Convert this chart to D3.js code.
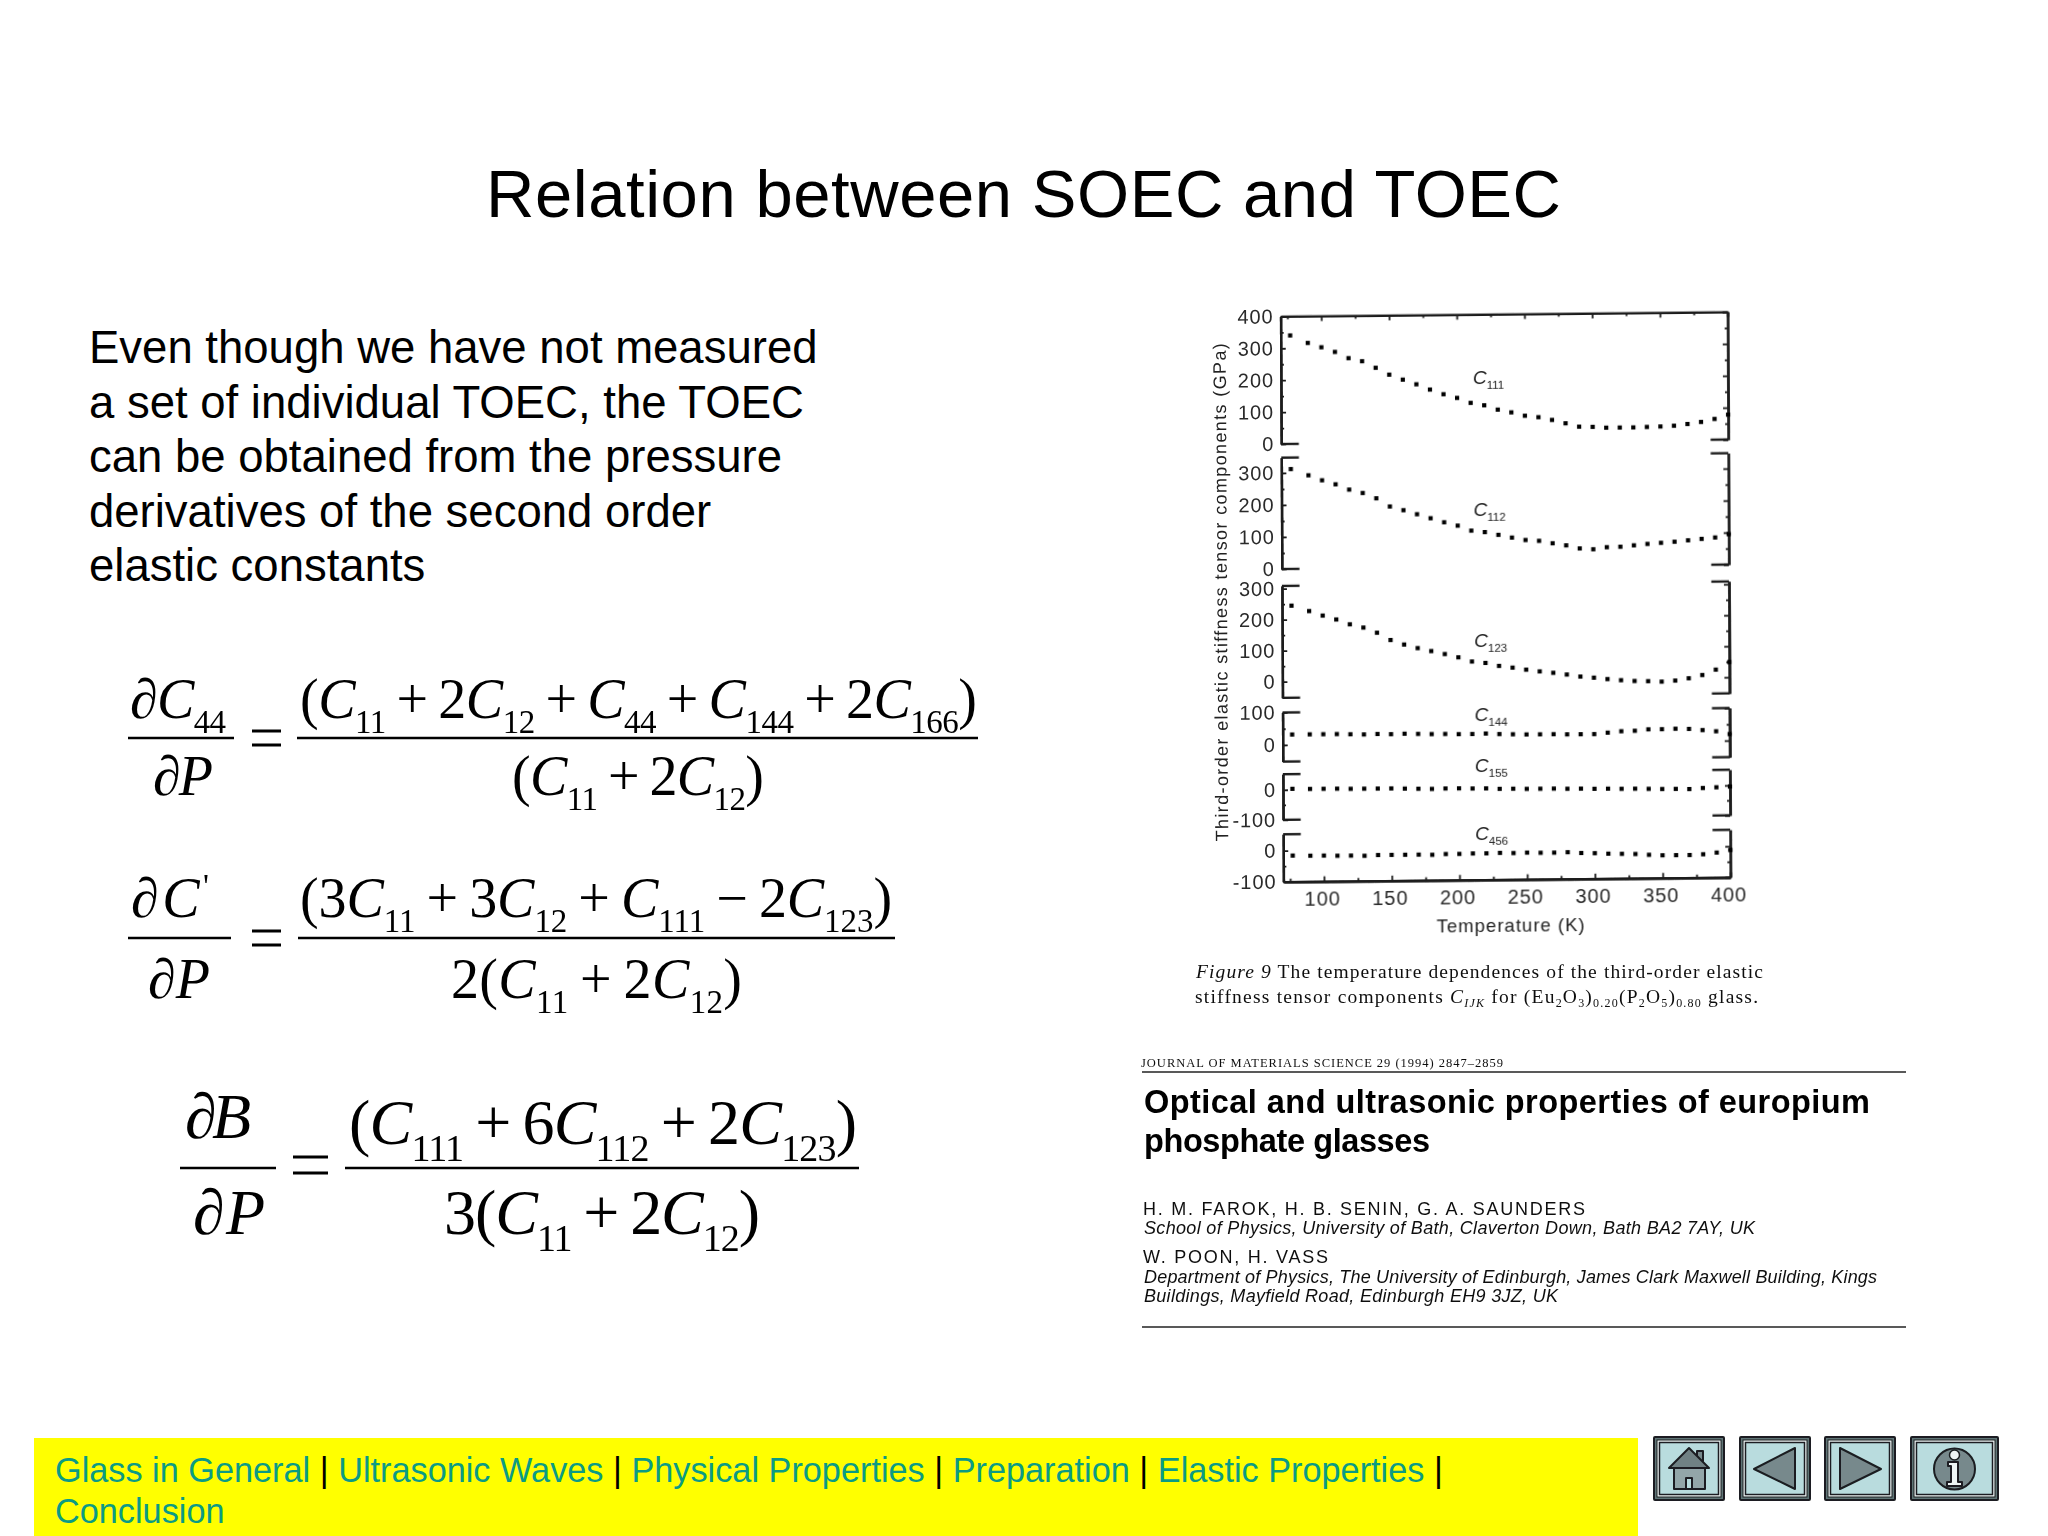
<!DOCTYPE html>
<html><head><meta charset="utf-8">
<script src="https://cdn.jsdelivr.net/npm/d3@7"></script>
<style>html,body{margin:0;padding:0;background:#fff}svg{display:block}text{white-space:pre}</style>
</head><body><svg id="c" width="2048" height="1536"></svg>
<script>
const temperatures=[77,90,100,110,120,130,140,150,160,170,180,190,200,210,220,230,240,250,260,270,280,290,300,310,320,330,340,350,360,370,380,390,400];
const c111=[340,316,302,287,267,257,236,214,198,183,166,151,139,123,115,101,92,81,76,67,56,45,44,41,41,41,42,43,45,50,56,65,78];
const c112=[312,292,276,263,246,235,218,192,180,167,154,141,130,114,109,100,91,83,80,72,65,55,52,58,59,63,67,70,73,77,81,85,95];
const c123=[245,227,212,199,183,172,155,131,116,104,94,84,73,59,54,44,38,31,25,20,14,7,3,-2,-6,-9,-10,-12,-9,-2,8,25,49];
const c144=[32,32,32,32,31,30,31,30,31,30,29,29,28,28,29,27,26,25,25,25,24,24,24,28,32,33,37,37,38,37,33,29,20];
const c155=[3,2,2,2,1,1,1,1,0,-1,-2,-1,-1,-2,-2,-4,-4,-5,-5,-5,-6,-6,-7,-7,-8,-8,-9,-10,-10,-11,-8,-6,-4];
const c456=[-16,-17,-17,-18,-18,-19,-17,-17,-17,-17,-18,-16,-16,-15,-15,-14,-15,-14,-15,-15,-14,-17,-18,-20,-21,-22,-25,-27,-27,-27,-25,-20,-12];
const seriesNames=["111","112","123","144","155","456"];
const seriesValues=[c111,c112,c123,c144,c155,c456];
const yMajorTicks=[[0,100,200,300,400],[0,100,200,300],[0,100,200,300],[0,100],[0,-100],[0,-100]];
const yMinorTicks=[[50,150,250,350],[50,150,250],[50,150,250],[50],[-50],[-50]];
const yDomains=[[0,400],[0,348],[-52,309],[-51,100],[-100,52],[-100,53]];
const xMajorTicks=[100,150,200,250,300,350,400];
const xMinorTicks=[75,125,175,225,275,325,375];
const bodyLines=["Even though we have not measured","a set of individual TOEC, the TOEC","can be obtained from the pressure","derivatives of the second order","elastic constants"];
const navLinks=["Glass in General","Ultrasonic Waves","Physical Properties","Preparation","Elastic Properties"];

const svg=d3.select("#c");
const defs=svg.append("defs");
defs.append("filter").attr("id","scan").attr("x","-5%").attr("y","-5%").attr("width","110%").attr("height","110%")
  .append("feGaussianBlur").attr("stdDeviation",0.6);
defs.append("filter").attr("id","soft").attr("x","-5%").attr("y","-5%").attr("width","110%").attr("height","110%")
  .append("feGaussianBlur").attr("stdDeviation",0.4);
svg.append("rect").attr("width",2048).attr("height",1536).attr("fill","#fff");

const SANS="'Liberation Sans',Arial,sans-serif", SERIF="'Liberation Serif','Times New Roman',serif";
function fit(t,w){const n=t.text().length,l=t.node().getComputedTextLength();t.attr("letter-spacing",((w-l)/Math.max(1,n-1)).toFixed(3));return t;}
function label(g,x,y,s,size,w,o={}){const t=g.append("text").attr("x",x).attr("y",y).text(s).attr("font-family",o.family||SANS).attr("font-size",size).attr("fill",o.fill||"#000");
  if(o.weight)t.attr("font-weight",o.weight);if(o.style)t.attr("font-style",o.style);if(w)fit(t,w);return t;}
/* rich text: "*x" italic, "_x" subscript, "_*x" italic subscript, "^x" superscript */
function rich(g,x,y,parts,o){const t=g.append("text").attr("x",x).attr("y",y).attr("font-family",o.family||SERIF).attr("font-size",o.size).attr("fill",o.fill||"#000");
  let cur=0;parts.forEach(p=>{let s=p,off=0,size=o.size,it=false;
    if(s[0]=="_"){off=o.sub;size=o.subSize;s=s.slice(1);}
    else if(s[0]=="^"){off=-o.sup;size=o.subSize;s=s.slice(1);}
    if(s[0]=="*"&&s.length>1){it=true;s=s.slice(1);}
    const ts=t.append("tspan").text(s).attr("font-size",size).attr("dy",off-cur);
    if(it)ts.attr("font-style","italic");cur=off;});
  if(o.width){const n=t.text().length,l=t.node().getComputedTextLength();t.attr("letter-spacing",((o.width-l)/(n-1)).toFixed(3));}
  return t;}

/* ---------- slide text ---------- */
label(svg,486,217,"Relation between SOEC and TOEC",67,1075);
bodyLines.forEach((s,i)=>label(svg,89,363+i*54.5,s,45.5));

/* ---------- equations ---------- */
const eqG=svg.append("g").attr("filter","url(#soft)");
function bar(x1,x2,y){eqG.append("line").attr("x1",x1).attr("x2",x2).attr("y1",y).attr("y2",y).attr("stroke","#000").attr("stroke-width",2.4);}
function equals(x1,x2,y,gap){[-gap,gap].forEach(d=>eqG.append("line").attr("x1",x1).attr("x2",x2).attr("y1",y+d).attr("y2",y+d).attr("stroke","#000").attr("stroke-width",3));}
const P="\u2009+\u2009", M="\u2009−\u2009";
const e1={size:56,subSize:33,sub:15,sup:20};
rich(eqG,130,718,["∂","*C","_44"],{...e1,width:96});
bar(128,234,738);equals(252,281,738,7);
rich(eqG,153,795,["∂","*P"],{...e1,width:60});
rich(eqG,300,718,["(","*C","_11",P+"2","*C","_12",P,"*C","_44",P,"*C","_144",P+"2","*C","_166",")"],{...e1,width:677});
bar(297,978,738);
rich(eqG,512,795,["(","*C","_11",P+"2","*C","_12",")"],{...e1,width:252});
rich(eqG,131,917,["∂","*C","^'"],{...e1,width:78});
bar(128,231,938);equals(252,281,938,7);
rich(eqG,148,998,["∂","*P"],{...e1,width:62});
rich(eqG,300,917,["(3","*C","_11",P+"3","*C","_12",P,"*C","_111",M+"2","*C","_123",")"],{...e1,width:592});
bar(298,895,938);
rich(eqG,451,998,["2(","*C","_11",P+"2","*C","_12",")"],{...e1,width:291});
const e3={size:64,subSize:38,sub:17,sup:20};
rich(eqG,185,1138,["∂","*B"],{...e3,width:66});
bar(180,276,1168);equals(293,328,1165,8);
rich(eqG,193,1234,["∂","*P"],{...e3,width:72});
rich(eqG,349,1144,["(","*C","_111",P+"6","*C","_112",P+"2","*C","_123",")"],{...e3,width:508});
bar(345,859,1168);
rich(eqG,444,1234,["3(","*C","_11",P+"2","*C","_12",")"],{...e3,width:316});

/* ---------- figure ---------- */
const ink="#1c1c1c";
const fig=svg.append("g").attr("filter","url(#scan)");
const plot=fig.append("g").attr("transform","translate(1284,600) matrix(1,-0.01,0.005,1,0,0) translate(-1284,-600)");
const x=d3.scaleLinear().domain([70,400]).range([1282,1729]);
const zeroY=[444,569,681.7,745,789.8,850.7], pxPer100=[31.9,32,31,32.5,30,31];
function styleAxis(a){a.selectAll("path.domain").attr("stroke",ink).attr("stroke-width",2.4);a.selectAll(".tick line").attr("stroke",ink).attr("stroke-width",1.8);
  a.selectAll("text").attr("font-family",SANS).attr("font-size",20).attr("letter-spacing",0.9).attr("fill","#2a2a2a");}
const plainNumber=d=>String(d);
seriesNames.forEach((name,i)=>{
  const [lo,hi]=yDomains[i],y=d3.scaleLinear().domain([lo,hi]).range([zeroY[i]-lo*pxPer100[i]/100,zeroY[i]-hi*pxPer100[i]/100]);
  const g=plot.append("g");
  const L=g.append("g").attr("transform",`translate(${x(70)},0)`).call(d3.axisLeft(y).tickValues(yMajorTicks[i]).tickSize(-5).tickSizeOuter(0).tickPadding(7).tickFormat(plainNumber));styleAxis(L);
  const Lm=g.append("g").attr("transform",`translate(${x(70)},0)`).call(d3.axisLeft(y).tickValues(yMinorTicks[i]).tickSize(-3).tickSizeOuter(0).tickFormat(""));styleAxis(Lm);
  const R=g.append("g").attr("transform",`translate(${x(400)},0)`).call(d3.axisRight(y).tickValues(yMajorTicks[i]).tickSize(-5).tickSizeOuter(0).tickFormat(""));styleAxis(R);
  const Rm=g.append("g").attr("transform",`translate(${x(400)},0)`).call(d3.axisRight(y).tickValues(yMinorTicks[i]).tickSize(-3).tickSizeOuter(0).tickFormat(""));styleAxis(Rm);
  if(i==0){const T=g.append("g").attr("transform",`translate(0,${y(hi)})`).call(d3.axisTop(x).tickValues(xMajorTicks).tickSize(-5).tickSizeOuter(0).tickFormat(""));styleAxis(T);
    const Tm=g.append("g").attr("transform",`translate(0,${y(hi)})`).call(d3.axisTop(x).tickValues(xMinorTicks).tickSize(-3).tickSizeOuter(0).tickFormat(""));styleAxis(Tm);}
  else{[[70,83],[387,400]].forEach(d=>g.append("line").attr("x1",x(d[0])).attr("x2",x(d[1])).attr("y1",y(hi)).attr("y2",y(hi)).attr("stroke",ink).attr("stroke-width",2.4));}
  if(i==5){const B=g.append("g").attr("transform",`translate(0,${y(lo)})`).call(d3.axisBottom(x).tickValues(xMajorTicks).tickSize(-5).tickSizeOuter(0).tickPadding(10).tickFormat(plainNumber));styleAxis(B);
    B.selectAll("text").attr("dx",-2);
    const Bm=g.append("g").attr("transform",`translate(0,${y(lo)})`).call(d3.axisBottom(x).tickValues(xMinorTicks).tickSize(-3).tickSizeOuter(0).tickFormat(""));styleAxis(Bm);}
  else{[[70,83],[387,400]].forEach(d=>g.append("line").attr("x1",x(d[0])).attr("x2",x(d[1])).attr("y1",y(lo)).attr("y2",y(lo)).attr("stroke",ink).attr("stroke-width",2.4));}
  g.selectAll("rect.pt").data(seriesValues[i]).join("rect").attr("class","pt").attr("width",4.2).attr("height",4.2).attr("fill","#000")
    .attr("x",(d,k)=>x(temperatures[k])-2.1).attr("y",d=>y(d)-2.1);
});
const compY=[385,516.7,648,721.7,773,840.7];
seriesNames.forEach((n,i)=>{
  rich(plot,1474,compY[i]+1,["*C","_"+n],{family:SANS,size:19,subSize:11.5,sub:5,sup:0,fill:"#222"});
});
plot.append("text").attr("transform","translate(1227,591) rotate(-90)").attr("text-anchor","middle").attr("font-family",SANS).attr("font-size",18).attr("fill","#222").text("Third-order elastic stiffness tensor components (GPa)").each(function(){fit(d3.select(this),498)});
fit(plot.append("text").attr("x",1435).attr("y",934).attr("font-family",SANS).attr("font-size",18.5).attr("fill","#222").text("Temperature (K)"),148);

/* caption */
const cap=fig.append("g");
const capO={size:19.5,subSize:12,sub:4,sup:0,fill:"#111"};
rich(cap,1196,978,["*Figure 9"," The temperature dependences of the third-order elastic"],{...capO,width:567});
rich(cap,1195,1003,["stiffness tensor components ","*C","_*IJK"," for (Eu","_2","O","_3",")","_0.20","(P","_2","O","_5",")","_0.80"," glass."],{...capO,width:563});

/* journal header */
const jr=fig.append("g");
label(jr,1141,1067,"JOURNAL OF MATERIALS SCIENCE 29 (1994) 2847–2859",12.5,362,{family:SERIF,fill:"#111"});
[1072,1327].forEach(y=>jr.append("line").attr("x1",1142).attr("x2",1906).attr("y1",y).attr("y2",y).attr("stroke","#222").attr("stroke-width",1.6));
label(jr,1144,1113,"Optical and ultrasonic properties of europium",32.5,726,{weight:"bold"});
label(jr,1144,1152,"phosphate glasses",32.5,286,{weight:"bold"});
label(jr,1143,1215,"H. M. FAROK, H. B. SENIN, G. A. SAUNDERS",18,442,{fill:"#111"});
label(jr,1144,1234,"School of Physics, University of Bath, Claverton Down, Bath BA2 7AY, UK",18,611,{style:"italic",fill:"#111"});
label(jr,1143,1263,"W. POON, H. VASS",18,185,{fill:"#111"});
label(jr,1144,1283,"Department of Physics, The University of Edinburgh, James Clark Maxwell Building, Kings",18,733,{style:"italic",fill:"#111"});
label(jr,1144,1302,"Buildings, Mayfield Road, Edinburgh EH9 3JZ, UK",18,414,{style:"italic",fill:"#111"});

/* ---------- footer ---------- */
const navColor="#0b9b84";
svg.append("rect").attr("x",34).attr("y",1438).attr("width",1604).attr("height",98).attr("fill","#ffff00");
const nav=svg.append("text").attr("x",55).attr("y",1482).attr("font-family",SANS).attr("font-size",34.27);
navLinks.forEach((s,i)=>{nav.append("tspan").attr("fill",navColor).text(s);nav.append("tspan").attr("fill","#000").text(" | ");});
svg.append("text").attr("x",55).attr("y",1523).attr("font-family",SANS).attr("font-size",34.27).attr("fill",navColor).text("Conclusion");

/* ---------- buttons ---------- */
const grey="#77898c",dark="#1a1f20";
function button(x0,w,draw){const y0=1437,h=63,g=svg.append("g").attr("transform",`translate(${x0},${y0})`).attr("filter","url(#soft)");
  g.append("rect").attr("width",w).attr("height",h).attr("rx",1).attr("fill","#5f7576").attr("stroke",dark).attr("stroke-width",2);
  g.append("rect").attr("x",3).attr("y",3).attr("width",w-6).attr("height",h-6).attr("fill","#eef5f5").attr("stroke",dark).attr("stroke-width",1);
  g.append("rect").attr("x",5.5).attr("y",5.5).attr("width",w-11).attr("height",h-11).attr("fill","#b9dcde").attr("stroke",dark).attr("stroke-width",1.5);
  draw(g);}
const ic=(g,d,f)=>g.append("path").attr("d",d).attr("fill",f||grey).attr("stroke",dark).attr("stroke-width",2).attr("stroke-linejoin","round");
button(1654,70,g=>{ic(g,"M43 14h6v10h-6z");ic(g,"M15 31L35 11L55 31Z","#6f8184");ic(g,"M20 31H51V52H20Z","#93a6a9");ic(g,"M32 52V41H38V52Z","#b9dcde");});
button(1740,70,g=>{ic(g,"M14 32L55 11V52Z");});
button(1825,70,g=>{ic(g,"M15 11L56 32L15 52Z");});
button(1911,87,g=>{g.append("circle").attr("cx",43.5).attr("cy",32).attr("r",20.5).attr("fill",grey).attr("stroke",dark).attr("stroke-width",2);
  g.append("circle").attr("cx",43.5).attr("cy",18).attr("r",5).attr("fill","#eef5f5").attr("stroke",dark).attr("stroke-width",1.5);
  ic(g,"M37 25H47V45H51V49H36V45H40V29H37Z","#eef5f5");});
</script></body></html>
